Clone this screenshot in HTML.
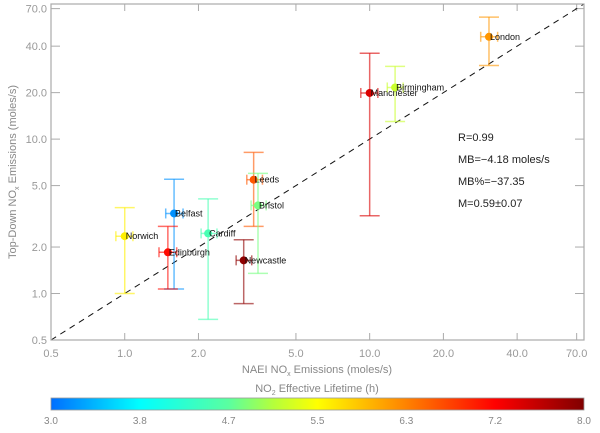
<!DOCTYPE html>
<html><head><meta charset="utf-8"><style>
body{margin:0;background:#fff;}
svg text{font-family:"Liberation Sans",sans-serif;}
</style></head><body>
<svg id="chart" width="600" height="428" viewBox="0 0 600 428" xmlns="http://www.w3.org/2000/svg">
<defs>
<linearGradient id="cbar" x1="0" x2="1" y1="0" y2="0">
<stop offset="0" stop-color="#006eff"/><stop offset="0.1667" stop-color="#00ffff"/>
<stop offset="0.3333" stop-color="#5affa0"/><stop offset="0.4167" stop-color="#b4ff3c"/>
<stop offset="0.5" stop-color="#ffff00"/><stop offset="0.6667" stop-color="#ff8200"/>
<stop offset="0.8333" stop-color="#ff0000"/><stop offset="1" stop-color="#800000"/>
</linearGradient>
</defs>
<g id="grid"></g>
<g id="marks"></g>
<rect x="51" y="4" width="533" height="336" fill="none" stroke="#aaa" stroke-width="1.2"/>
<text x="317" y="373" font-size="11" fill="#888" text-anchor="middle">NAEI NO<tspan font-size="7" dy="3">x</tspan><tspan dy="-3"> Emissions (moles/s)</tspan></text>
<text transform="translate(16,172) rotate(-90)" font-size="11" fill="#888" text-anchor="middle">Top-Down NO<tspan font-size="7" dy="3">x</tspan><tspan dy="-3"> Emissions (moles/s)</tspan></text>
<g font-size="11" fill="#222">
<text x="458" y="141">R=0.99</text>
<text x="458" y="163">MB=−4.18 moles/s</text>
<text x="458" y="185">MB%=−37.35</text>
<text x="458" y="207">M=0.59±0.07</text>
</g>
<text x="317" y="392" font-size="11" fill="#888" text-anchor="middle">NO<tspan font-size="7" dy="3">2</tspan><tspan dy="-3"> Effective Lifetime (h)</tspan></text>
<rect x="51" y="398" width="533" height="12" fill="url(#cbar)" stroke="#999" stroke-width="0.8"/>
<g id="cbticks"></g>
</svg>
<script>
const cities=["London","Manchester","Birmingham","Leeds","Bristol","Belfast","Cardiff","Edinburgh","Norwich","Newcastle"];
const naei=[30.7,10.0,12.7,3.36,3.5,1.59,2.19,1.5,1.0,3.06];
const naeiLo=[28.4,9.2,11.8,3.15,3.28,1.47,2.05,1.38,0.92,2.85];
const naeiHi=[33.3,10.8,13.7,3.65,3.78,1.73,2.38,1.63,1.08,3.3];
const topdown=[46,19.9,21.6,5.46,3.72,3.3,2.45,1.85,2.35,1.64];
const tdLo=[30,3.19,13,2.72,1.35,1.07,0.68,1.07,1.0,0.86];
const tdHi=[61.7,36,29.6,8.2,6.0,5.5,4.1,2.72,3.6,2.23];
const lifetime=[6.2,7.4,5.2,6.6,4.8,3.2,4.5,7.1,5.6,7.9];
const xTicks=[0.5,1,2,5,10,20,40,70];
const yTicks=[0.5,1,2,5,10,20,40,70];
const cbTicks=["3.0","3.8","4.7","5.5","6.3","7.2","8.0"];
const NS="http://www.w3.org/2000/svg";
const X0=51,X1=584,Y0=340,Y1=4,VMIN=0.5,VMAX=75;
function sx(v){return X0+(Math.log10(v/VMIN)/Math.log10(VMAX/VMIN))*(X1-X0);}
function sy(v){return Y0-(Math.log10(v/VMIN)/Math.log10(VMAX/VMIN))*(Y0-Y1);}
const stops=[[3.0,[0,110,255]],[3.833,[0,255,255]],[4.667,[90,255,160]],[5.083,[180,255,60]],[5.5,[255,255,0]],[6.333,[255,130,0]],[7.167,[255,0,0]],[8.0,[128,0,0]]];
function cmap(t){for(let i=0;i<stops.length-1;i++){const a=stops[i],b=stops[i+1];if(t<=b[0]||i==stops.length-2){const f=Math.max(0,Math.min(1,(t-a[0])/(b[0]-a[0])));return a[1].map((c,k)=>Math.round(c+(b[1][k]-c)*f));}}}
function el(tag,attrs,parent){const e=document.createElementNS(NS,tag);for(const k in attrs)e.setAttribute(k,attrs[k]);parent.appendChild(e);return e;}
const grid=document.getElementById('grid'),marks=document.getElementById('marks'),cbt=document.getElementById('cbticks');
xTicks.forEach(v=>{const x=sx(v);
 const t=el('line',{x1:x,x2:x,y1:Y0,y2:Y0-7,stroke:'#aaa'},grid);
 
 
 const t2=el('line',{x1:x,x2:x,y1:Y1,y2:Y1+7,stroke:'#aaa'},grid);
 
 
 const l=el('text',{x:x,y:357,'font-size':11,fill:'#999','text-anchor':'middle'},grid);l.textContent=v.toFixed(1);
 
 
});
yTicks.forEach(v=>{const y=sy(v);
 const t=el('line',{x1:X0,x2:X0+9,y1:y,y2:y,stroke:'#aaa'},grid);
 
 
 const t2=el('line',{x1:X1,x2:X1-9,y1:y,y2:y,stroke:'#aaa'},grid);
 
 
 const l=el('text',{x:47,y:y+4,'font-size':11,fill:'#999','text-anchor':'end'},grid);l.textContent=v.toFixed(1);
 
 
});
const one=el('line',{x1:sx(VMIN),y1:sy(VMIN),x2:sx(VMAX),y2:sy(VMAX),stroke:'#111','stroke-dasharray':'6,5','stroke-width':1},marks);


cities.forEach((c,i)=>{
 const col=cmap(lifetime[i]);const cs='rgb('+col.join(',')+')';
 const lc='rgba('+col.join(',')+',0.6)';
 const g=el('g',{},marks);
 
 
 const x=sx(naei[i]),y=sy(topdown[i]);
 el('line',{x1:x,x2:x,y1:sy(tdLo[i]),y2:sy(tdHi[i]),stroke:lc,'stroke-width':1.5},g);
 el('line',{x1:x-10,x2:x+10,y1:sy(tdLo[i]),y2:sy(tdLo[i]),stroke:lc,'stroke-width':1.5},g);
 el('line',{x1:x-10,x2:x+10,y1:sy(tdHi[i]),y2:sy(tdHi[i]),stroke:lc,'stroke-width':1.5},g);
 el('line',{x1:sx(naeiLo[i]),x2:sx(naeiHi[i]),y1:y,y2:y,stroke:lc,'stroke-width':1.5},g);
 el('line',{x1:sx(naeiLo[i]),x2:sx(naeiLo[i]),y1:y-5,y2:y+5,stroke:lc,'stroke-width':1.5},g);
 el('line',{x1:sx(naeiHi[i]),x2:sx(naeiHi[i]),y1:y-5,y2:y+5,stroke:lc,'stroke-width':1.5},g);
 el('circle',{cx:x,cy:y,r:4,fill:cs},g);
 const t=el('text',{x:x+1,y:y+3,'font-size':9,fill:'#111'},g);t.textContent=c;
});
cbTicks.forEach((s,i)=>{const x=X0+i*(X1-X0)/(cbTicks.length-1);
 const l=el('text',{x:x,y:424,'font-size':10,fill:'#888','text-anchor':'middle'},cbt);l.textContent=s;
 
 
});
</script>
</body></html>
